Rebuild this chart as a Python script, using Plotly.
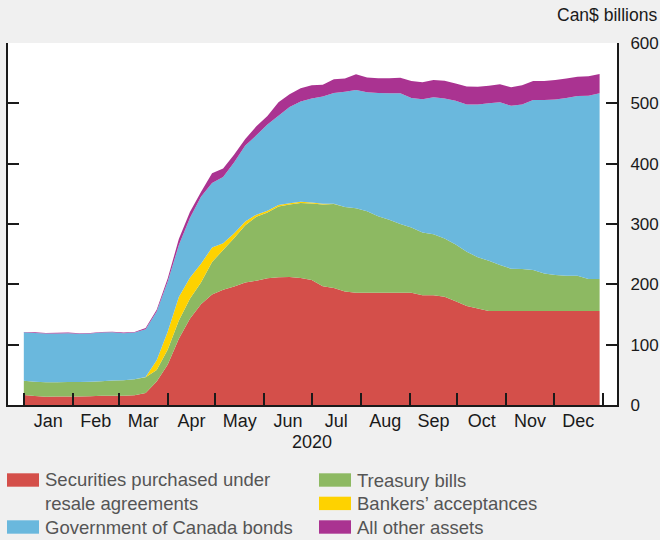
import pandas as pd
import plotly.graph_objects as go

# weekly balance-sheet observations (Wednesdays), Can$ billions
dates = pd.date_range("2020-01-01", "2020-12-30", freq="7D")

repo = [16.6, 15, 13.8, 14, 14, 14, 14.5, 15.5, 15.5, 15.5, 16, 20, 39, 67,
        110, 143, 167, 183, 191, 196.5, 203, 206, 210, 211.6, 212, 210.5, 207, 197,
        194, 188, 186, 186, 186, 186, 186, 186, 182, 182, 179.6, 172, 164, 160,
        156, 156, 156, 156, 156, 156, 156, 156, 156, 156, 156]
tbills = [23.4, 23.5, 23.8, 23.8, 24, 24, 24, 24, 25, 25.5, 26.5, 26, 19, 25,
          30, 33, 36, 54, 66, 80.5, 95, 106, 109, 117.4, 120.5, 124.5, 127, 135.5,
          139, 140, 140, 135, 127, 121, 114, 108, 104, 101, 96.4, 94, 90, 85,
          83, 76, 70, 69.4, 67.8, 62, 59.5, 58.4, 58.4, 53, 53]
bankers = [0, 0, 0, 0, 0, 0, 0, 0, 0, 0, 0, 0.5, 16, 30,
           39, 35, 31, 24, 11, 7.5, 6, 3.5, 3, 2.5, 2, 2, 1.5, 1,
           0.5, 0.3, 0, 0, 0, 0, 0, 0, 0, 0, 0, 0, 0, 0,
           0, 0, 0, 0, 0, 0, 0, 0, 0, 0, 0]
goc_bonds = [80.4, 81, 80.9, 80.9, 81, 80, 80, 80.5, 80, 78, 77.5, 79, 81, 83,
             86, 99, 111, 107, 110, 118, 126, 131.5, 143, 148, 159.5, 166, 172.5, 178,
             183.5, 190.7, 196, 197.5, 204, 209.6, 216.6, 215, 220.6, 227, 232, 238.4, 244, 253,
             261, 269.7, 270, 272.6, 281.7, 287.5, 291, 294.6, 297.6, 303.7, 307.6]
other = [0.8, 1, 1, 1, 1, 1, 1, 1, 1, 1, 1, 2, 3, 5,
         10, 10, 8, 16, 14, 12.5, 11, 15, 14, 22.5, 21, 22, 22, 19.5,
         23, 22, 26, 24.5, 24.5, 25, 26, 28, 28.4, 28.7, 29.6, 28.6, 30, 29.6,
         29, 29.8, 30.5, 32, 31.5, 31.5, 32, 32, 32, 32.3, 32]

names = ["Securities purchased under<br>resale agreements", "Treasury bills",
         "Bankers’ acceptances", "Government of Canada bonds", "All other assets"]
values = [repo, tbills, bankers, goc_bonds, other]
colors = ["#d44f4a", "#8db962", "#fed200", "#6ab8dd", "#aa3391"]

W, H = 660, 540
L, R, T, B = 8, 43, 43, 135
PW, PH = W - L - R, H - T - B


def px(x):
    return (x - L) / PW


def py(y):
    return (H - B - y) / PH


fig = go.Figure()
for name, vals, col in zip(names, values, colors):
    fig.add_trace(go.Scatter(x=dates, y=vals, name=name.replace("<br>", " "),
                             mode="none", stackgroup="one", fillcolor=col,
                             showlegend=False))

# hand-made legend in two columns (swatch x, text x, row centre y)
legend_pos = [(7, 43, 491.7), (319, 355, 480), (319, 355, 503.4),
              (7, 43, 527), (319, 355, 527)]
shapes = []
annotations = []
for (sx, tx, cy), name, col in zip(legend_pos, names, colors):
    sy = 480 if "<br>" in name else cy
    shapes.append(dict(type="rect", xref="paper", yref="paper",
                       x0=px(sx), x1=px(sx + 32), y0=py(sy - 6.7), y1=py(sy + 6.7),
                       fillcolor=col, line=dict(width=0)))
    annotations.append(dict(xref="paper", yref="paper", x=px(tx), y=py(cy),
                            xanchor="left", yanchor="middle", align="left",
                            text=name, showarrow=False,
                            font=dict(size=18.5, color="#555555")))

annotations.append(dict(xref="paper", yref="paper", x=px(659), y=py(15),
                        xanchor="right", yanchor="middle", text="Can$ billions",
                        showarrow=False, font=dict(size=17.5, color="#1a1a1a")))
annotations.append(dict(xref="x", yref="paper", x="2020-07-01", y=py(442),
                        xanchor="center", yanchor="middle", text="2020",
                        showarrow=False, font=dict(size=18, color="#1a1a1a")))

fig.update_layout(
    width=W, height=H,
    margin=dict(l=L, r=R, t=T, b=B),
    paper_bgcolor="#f0f0f0",
    plot_bgcolor="#ffffff",
    font=dict(family="Liberation Sans, Arial, sans-serif", color="#1a1a1a"),
    showlegend=False,
    shapes=shapes,
    annotations=annotations,
    xaxis=dict(type="date", range=["2019-12-22", "2021-01-10"],
               tick0="2020-01-01", dtick="M1", ticklabelmode="period",
               tickformat="%b", ticks="inside", ticklen=12, tickwidth=2,
               tickcolor="#1a1a1a", showline=True, linewidth=2,
               linecolor="#1a1a1a", showgrid=False, zeroline=False,
               automargin=False, ticklabelstandoff=-2,
               tickfont=dict(size=18)),
    yaxis=dict(side="right", range=[0, 600], dtick=100, ticks="inside",
               ticklen=11, tickwidth=2, tickcolor="#1a1a1a", showline=True,
               linewidth=2, linecolor="#1a1a1a", mirror="ticks",
               showgrid=False, zeroline=False, ticklabelstandoff=8,
               automargin=False, tickfont=dict(size=17)),
)

# drop the browser's default page margin so the figure sits at the corner
fig.write_html("out.html", config={"displayModeBar": False},
               post_script="document.body.style.margin = '0';")
